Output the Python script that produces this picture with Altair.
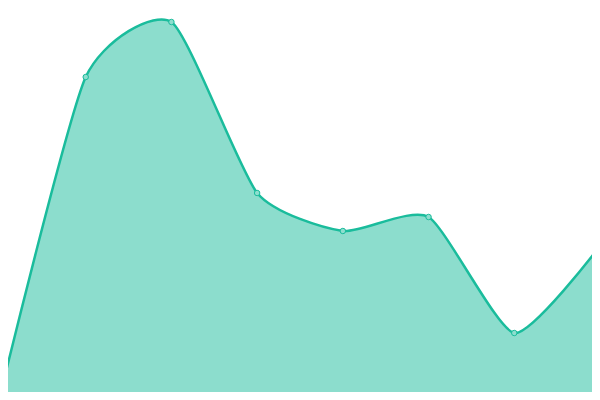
import altair as alt
import pandas as pd

xs = [0, 1, 2, 3, 4, 5, 6, 7]
vals = [4, 323, 378, 207, 169, 183, 67, 154]

df = pd.DataFrame({"x": xs, "y": vals})

# plot area sits inside the 8px page margin; domains chosen so interior points
# land where they do in the reference and the ends are clipped at the edges
xsc = alt.Scale(domain=[0.0933, 6.907], nice=False, zero=False)
ysc = alt.Scale(domain=[8, 392], nice=False, zero=False)

base = alt.Chart(df).encode(
    x=alt.X("x:Q", scale=xsc, axis=None),
    y=alt.Y("y:Q", scale=ysc, axis=None),
)

interp = "cardinal"
tension = 0.4
area = base.mark_area(interpolate=interp, tension=tension, color="#1abc9c", opacity=0.5,
                      clip=True).encode(y2=alt.datum(0))
line = base.mark_line(interpolate=interp, tension=tension, color="#1abc9c",
                      strokeWidth=2.5, clip=True)
pts = base.mark_point(filled=True, size=30, fill="#8ddece", stroke="#1abc9c",
                      strokeWidth=1, opacity=1, clip=True)

chart = (area + line + pts).properties(
    width=584, height=384,
    padding=0,
    autosize=alt.AutoSizeParams(type="none"),
).configure_view(stroke=None)

chart.save("out.html", embed_options={"renderer": "svg", "actions": False})
